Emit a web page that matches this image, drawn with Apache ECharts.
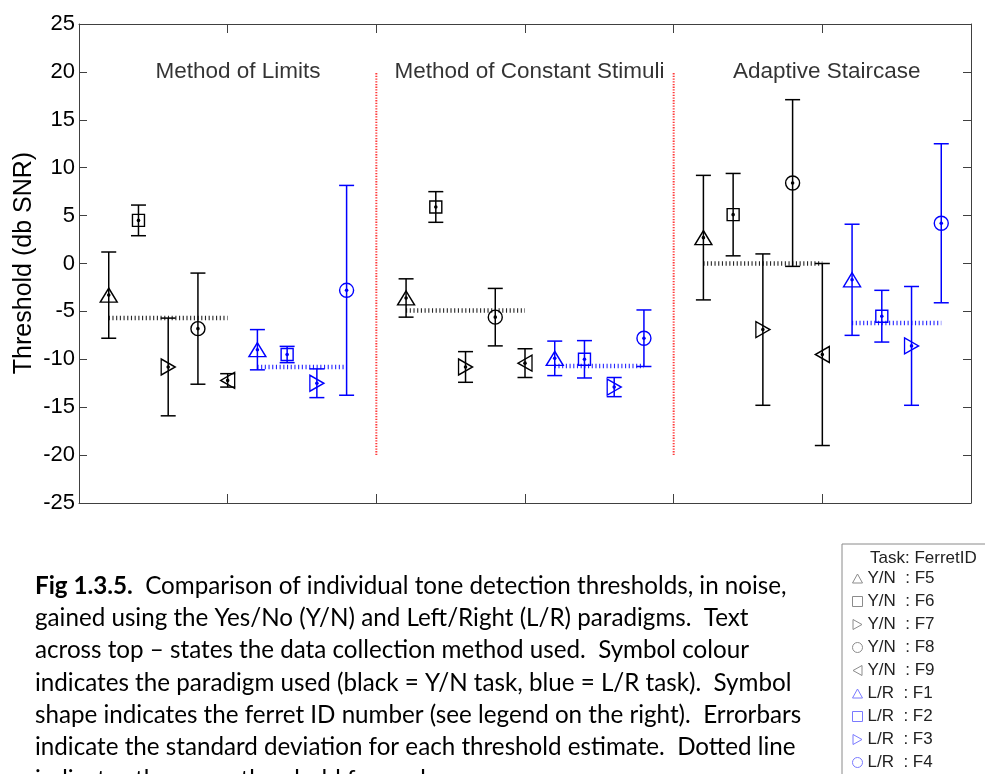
<!DOCTYPE html>
<html>
<head>
<meta charset="utf-8">
<script src="https://cdn.jsdelivr.net/npm/echarts@6/dist/echarts.min.js"></script>
<style>
  html, body { margin: 0; padding: 0; background: #fff; }
  #chart { width: 985px; height: 774px; }
</style>
</head>
<body>
<div id="chart"></div>
<script>
// Data collection methods shown across the top of the plot
const methods = ['Method of Limits', 'Method of Constant Stimuli', 'Adaptive Staircase'];
const methodLabelX = [1.07, 3.03, 5.03];

// Ferrets per task (Y/N = Yes/No, L/R = Left/Right)
const ferretsYN = ['F5', 'F6', 'F7', 'F8', 'F9'];
const ferretsLR = ['F1', 'F2', 'F3', 'F4'];

// Threshold means (dB SNR), one value per method
const meanF5 = [-3.3, -3.6, 2.7];
const meanF6 = [4.5, 5.9, 5.1];
const meanF7 = [-10.8, -10.8, -6.9];
const meanF8 = [-6.8, -5.6, 8.4];
const meanF9 = [-12.2, -10.4, -9.5];
const meanF1 = [-9.0, -9.9, -1.7];
const meanF2 = [-9.5, -10.0, -5.5];
const meanF3 = [-12.5, -12.9, -8.6];
const meanF4 = [-2.8, -7.8, 4.2];

// Standard deviations, one value per method
const sdF5 = [4.5, 2.0, 6.5];
const sdF6 = [1.6, 1.6, 4.3];
const sdF7 = [5.1, 1.6, 7.9];
const sdF8 = [5.8, 3.0, 8.7];
const sdF9 = [0.7, 1.5, 9.5];
const sdF1 = [2.1, 1.8, 5.8];
const sdF2 = [0.85, 1.95, 2.7];
const sdF3 = [1.5, 1.0, 6.2];
const sdF4 = [10.95, 2.95, 8.3];

// Mean threshold of each task group, per method
const groupMeanYN = [-5.7, -4.9, 0.0];
const groupMeanLR = [-10.8, -10.7, -6.2];

const meansBy = { F5: meanF5, F6: meanF6, F7: meanF7, F8: meanF8, F9: meanF9, F1: meanF1, F2: meanF2, F3: meanF3, F4: meanF4 };
const sdsBy = { F5: sdF5, F6: sdF6, F7: sdF7, F8: sdF8, F9: sdF9, F1: sdF1, F2: sdF2, F3: sdF3, F4: sdF4 };

// Marker shapes per ferret
const shapes = {
  up: { symbol: 'path://M5,0 L10,9 L0,9 Z', size: [17, 14] },
  square: { symbol: 'rect', size: [12, 12] },
  right: { symbol: 'path://M0,0 L9,5 L0,10 Z', size: [14, 16] },
  circle: { symbol: 'circle', size: [14, 14] },
  left: { symbol: 'path://M9,0 L0,5 L9,10 Z', size: [14, 16] }
};
const shapeOrder = ['up', 'square', 'right', 'circle', 'left'];

const BLACK = '#000000';
const BLUE = '#0000ff';
const AXIS = '#404040';
const FONT = 'Liberation Sans';

// horizontal slot inside each method block (0..2, 2..4, 4..6)
const slotX = (methodIdx, slot) => methodIdx * 2 + 0.2 * slot;

const ferretList = [];
ferretsYN.forEach((f, i) => ferretList.push({ id: f, task: 'Y/N', color: BLACK, legendColor: '#8c8c8c', shape: shapeOrder[i], slot: i + 1 }));
ferretsLR.forEach((f, i) => ferretList.push({ id: f, task: 'L/R', color: BLUE, legendColor: '#7a7aff', shape: shapeOrder[i], slot: i + 6 }));

const series = [];

// red dotted separators between method blocks
series.push({
  type: 'custom',
  silent: true,
  z: 1,
  data: [[2, -20, 20], [4, -20, 20]],
  renderItem(params, api) {
    const a = api.coord([api.value(0), api.value(1)]);
    const b = api.coord([api.value(0), api.value(2)]);
    return { type: 'line', shape: { x1: a[0], y1: a[1], x2: b[0], y2: b[1] },
      style: { stroke: '#ff3b3b', lineWidth: 2, lineDash: [1.3, 1.4] } };
  }
});

// dotted group-mean lines
function meanLineSeries(values, firstSlot, lastSlot, color) {
  return {
    type: 'custom',
    silent: true,
    z: 2,
    data: values.map((v, m) => [slotX(m, firstSlot), slotX(m, lastSlot), v]),
    renderItem(params, api) {
      const a = api.coord([api.value(0), api.value(2)]);
      const b = api.coord([api.value(1), api.value(2)]);
      return { type: 'line', shape: { x1: a[0], y1: a[1], x2: b[0], y2: b[1] },
        style: { stroke: color, lineWidth: 4.5, lineDash: [1.1, 2.6], opacity: 0.85 } };
    }
  };
}
series.push(meanLineSeries(groupMeanYN, 1, 5, BLACK));
series.push(meanLineSeries(groupMeanLR, 6, 9, BLUE));

// error bars with centre dot, one custom series per ferret
ferretList.forEach(f => {
  const mu = meansBy[f.id], sd = sdsBy[f.id];
  series.push({
    type: 'custom',
    silent: true,
    z: 3,
    data: mu.map((v, m) => [slotX(m, f.slot), v - sd[m], v + sd[m], v]),
    renderItem(params, api) {
      const x = api.value(0);
      const lo = api.coord([x, api.value(1)]);
      const hi = api.coord([x, api.value(2)]);
      const c = api.coord([x, api.value(3)]);
      const w = 7.5;
      const st = { stroke: f.color, lineWidth: 1.5, fill: null };
      return { type: 'group', children: [
        { type: 'line', shape: { x1: lo[0], y1: lo[1], x2: hi[0], y2: hi[1] }, style: st },
        { type: 'line', shape: { x1: lo[0] - w, y1: lo[1], x2: lo[0] + w, y2: lo[1] }, style: st },
        { type: 'line', shape: { x1: hi[0] - w, y1: hi[1], x2: hi[0] + w, y2: hi[1] }, style: st },
        { type: 'circle', shape: { cx: c[0], cy: c[1], r: 1.8 }, style: { fill: f.color } }
      ] };
    }
  });
});

// hollow markers, one scatter series per ferret (also feeds the legend)
ferretList.forEach(f => {
  const s = shapes[f.shape];
  series.push({
    type: 'scatter',
    name: f.task + '  : ' + f.id,
    z: 4,
    symbol: s.symbol,
    symbolSize: s.size,
    itemStyle: { color: 'rgba(0,0,0,0)', borderColor: f.color, borderWidth: 1.4, opacity: 1 },
    emphasis: { disabled: true },
    data: meansBy[f.id].map((v, m) => [slotX(m, f.slot), v])
  });
});

// method names across the top
series.push({
  type: 'scatter',
  silent: true,
  symbolSize: 0,
  z: 5,
  data: methods.map((name, i) => ({ value: [methodLabelX[i], 20], name })),
  label: { show: true, position: 'inside', formatter: p => p.name,
    fontFamily: FONT, fontSize: 22.5, color: '#000' }
});

const legendData = ferretList.map(f => ({
  name: f.task + '  : ' + f.id,
  icon: shapes[f.shape].symbol,
  itemStyle: { color: 'rgba(0,0,0,0)', borderColor: f.legendColor, borderWidth: 1 }
}));

const captionLines = [
  '{b|Fig 1.3.5.}  Comparison of individual tone detection thresholds, in noise,',
  'gained using the Yes/No (Y/N) and Left/Right (L/R) paradigms.  Text',
  'across top \u2013 states the data collection method used.  Symbol colour',
  'indicates the paradigm used (black = Y/N task, blue = L/R task).  Symbol',
  'shape indicates the ferret ID number (see legend on the right).  Errorbars',
  'indicate the standard deviation for each threshold estimate.  Dotted line',
  'indicates the mean threshold for each group.'
];

const graphic = [
  { type: 'text', x: 24, y: 263, rotation: Math.PI / 2,
    style: { text: 'Threshold (db SNR)', fontFamily: FONT, fontSize: 25, fill: '#000',
      align: 'center', verticalAlign: 'middle' } },
  { type: 'rect', shape: { x: 842, y: 544, width: 200, height: 300 },
    style: { fill: '#fff', stroke: '#8a8a8a', lineWidth: 1 }, z: -1 },
  { type: 'text', x: 870, y: 558,
    style: { text: 'Task: FerretID', fontFamily: FONT, fontSize: 17, fill: '#222',
      align: 'left', verticalAlign: 'middle' } }
];
captionLines.forEach((line, i) => {
  graphic.push({ type: 'text', x: 35, y: 586 + i * 32.3,
    style: { text: line, fontFamily: 'Lato', fontSize: 24.2, fill: '#000',
      align: 'left', verticalAlign: 'middle',
      rich: { b: { fontFamily: 'Lato', fontSize: 24.2, fontWeight: 'bold', fill: '#000' } } } });
});

const axisCommon = {
  type: 'value',
  axisLine: { show: true, onZero: false, lineStyle: { color: AXIS, width: 1 } },
  axisTick: { show: true, inside: true, lineStyle: { color: AXIS, width: 1 } },
  splitLine: { show: false }
};

const chart = echarts.init(document.getElementById('chart'), null, { renderer: 'canvas' });
chart.setOption({
  animation: false,
  backgroundColor: '#fff',
  grid: { left: 79, right: 14, top: 24, bottom: 271, containLabel: false },
  xAxis: [
    Object.assign({}, axisCommon, { position: 'bottom', min: 0, max: 6, interval: 1,
      axisTick: Object.assign({}, axisCommon.axisTick, { length: 9 }), axisLabel: { show: false } }),
    Object.assign({}, axisCommon, { position: 'top', min: 0, max: 6, interval: 1,
      axisTick: Object.assign({}, axisCommon.axisTick, { length: 9 }), axisLabel: { show: false } })
  ],
  yAxis: [
    Object.assign({}, axisCommon, { position: 'left', min: -25, max: 25, interval: 5,
      axisTick: Object.assign({}, axisCommon.axisTick, { length: 8 }),
      axisLabel: { show: true, margin: 4, fontFamily: FONT, fontSize: 22, color: '#000' } }),
    Object.assign({}, axisCommon, { position: 'right', min: -25, max: 25, interval: 5,
      axisTick: Object.assign({}, axisCommon.axisTick, { length: 8 }), axisLabel: { show: false } })
  ],
  legend: {
    orient: 'vertical', left: 852, top: 570, padding: 0,
    itemWidth: 10, itemHeight: 10, itemGap: 6,
    selectedMode: false,
    textStyle: { fontFamily: FONT, fontSize: 17, color: '#222', lineHeight: 17 },
    data: legendData
  },
  graphic,
  series
});
</script>
</body>
</html>
